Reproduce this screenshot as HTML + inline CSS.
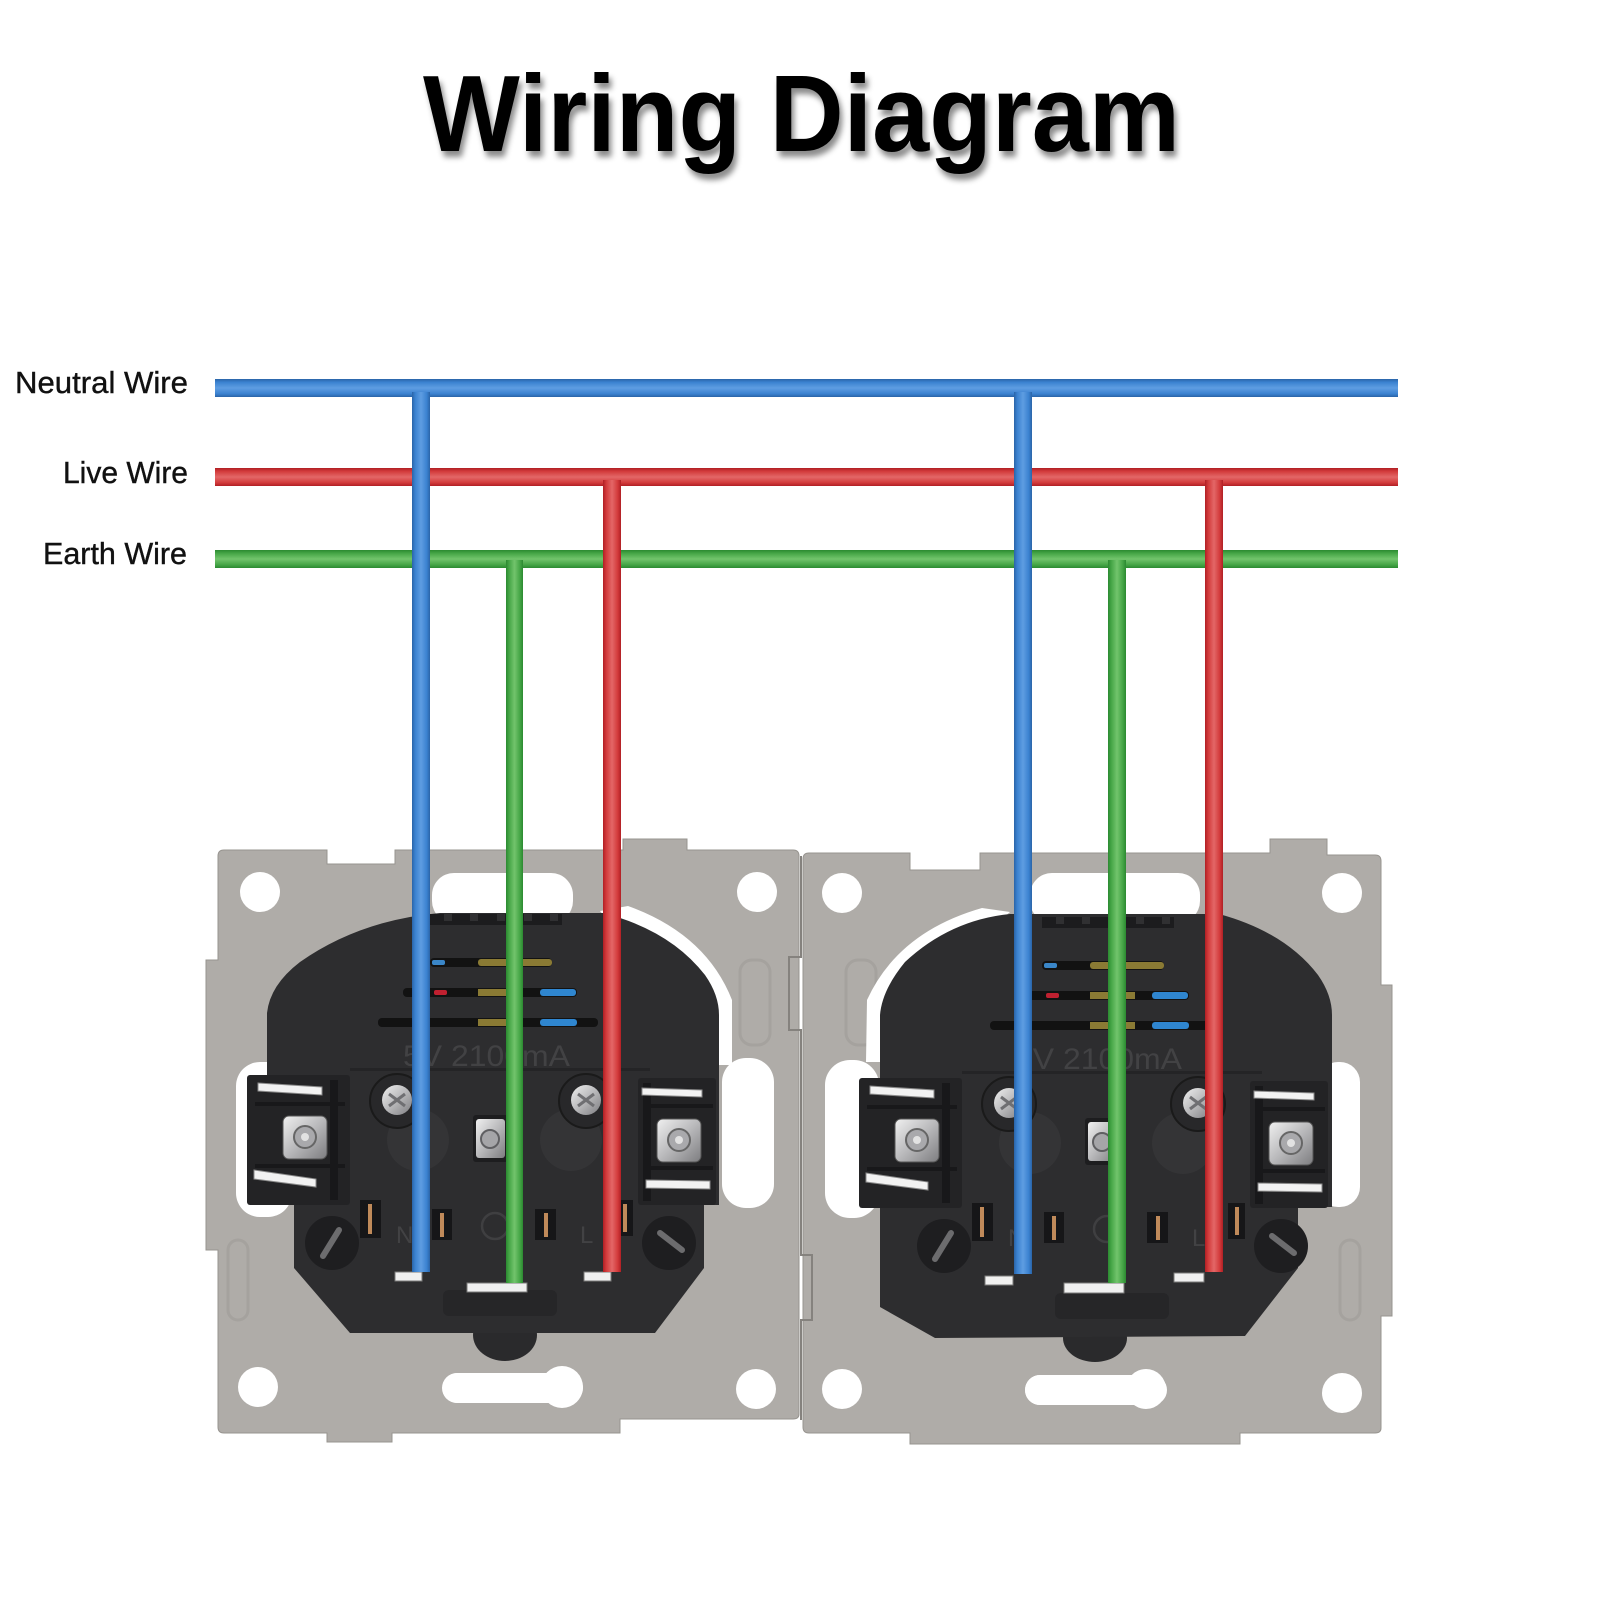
<!DOCTYPE html>
<html>
<head>
<meta charset="utf-8">
<style>
html,body{margin:0;padding:0;background:#ffffff;}
svg{display:block;}
</style>
</head>
<body>
<svg width="1600" height="1600" viewBox="0 0 1600 1600" xmlns="http://www.w3.org/2000/svg">
<defs>
  <linearGradient id="hb" x1="0" y1="0" x2="0" y2="1">
    <stop offset="0" stop-color="#2a64a8"/><stop offset="0.18" stop-color="#3b82d0"/>
    <stop offset="0.5" stop-color="#5e9de2"/><stop offset="0.82" stop-color="#3b82d0"/>
    <stop offset="1" stop-color="#2a64a8"/>
  </linearGradient>
  <linearGradient id="vb" x1="0" y1="0" x2="1" y2="0">
    <stop offset="0" stop-color="#2a64a8"/><stop offset="0.18" stop-color="#3b82d0"/>
    <stop offset="0.5" stop-color="#5e9de2"/><stop offset="0.82" stop-color="#3b82d0"/>
    <stop offset="1" stop-color="#2a64a8"/>
  </linearGradient>
  <linearGradient id="hr" x1="0" y1="0" x2="0" y2="1">
    <stop offset="0" stop-color="#b01f24"/><stop offset="0.18" stop-color="#d23a3b"/>
    <stop offset="0.5" stop-color="#e36767"/><stop offset="0.82" stop-color="#d23a3b"/>
    <stop offset="1" stop-color="#b01f24"/>
  </linearGradient>
  <linearGradient id="vr" x1="0" y1="0" x2="1" y2="0">
    <stop offset="0" stop-color="#b01f24"/><stop offset="0.18" stop-color="#d23a3b"/>
    <stop offset="0.5" stop-color="#e36767"/><stop offset="0.82" stop-color="#d23a3b"/>
    <stop offset="1" stop-color="#b01f24"/>
  </linearGradient>
  <linearGradient id="hg" x1="0" y1="0" x2="0" y2="1">
    <stop offset="0" stop-color="#2b8a31"/><stop offset="0.18" stop-color="#45a546"/>
    <stop offset="0.5" stop-color="#72c46c"/><stop offset="0.82" stop-color="#45a546"/>
    <stop offset="1" stop-color="#2b8a31"/>
  </linearGradient>
  <linearGradient id="vg" x1="0" y1="0" x2="1" y2="0">
    <stop offset="0" stop-color="#2b8a31"/><stop offset="0.18" stop-color="#45a546"/>
    <stop offset="0.5" stop-color="#72c46c"/><stop offset="0.82" stop-color="#45a546"/>
    <stop offset="1" stop-color="#2b8a31"/>
  </linearGradient>
  <linearGradient id="silver" x1="0" y1="0" x2="1" y2="1">
    <stop offset="0" stop-color="#f0f0f0"/><stop offset="0.5" stop-color="#b9b9bb"/>
    <stop offset="1" stop-color="#7d7d80"/>
  </linearGradient>
  <filter id="sh" x="-5%" y="-30%" width="112%" height="170%">
    <feDropShadow dx="3" dy="6" stdDeviation="3" flood-color="#000" flood-opacity="0.45"/>
  </filter>

  <g id="inner">
    <!-- top teeth strip -->
    <rect x="430" y="914" width="132" height="11" fill="#1c1c1e"/>
    <g fill="#303032">
      <rect x="444" y="914" width="8" height="7"/><rect x="470" y="914" width="8" height="7"/>
      <rect x="497" y="914" width="8" height="7"/><rect x="524" y="914" width="8" height="7"/>
      <rect x="550" y="914" width="8" height="7"/>
    </g>
    <!-- vents -->
    <rect x="430" y="958" width="122" height="9" rx="4" fill="#121212"/>
    <rect x="432" y="960" width="13" height="5" rx="2" fill="#3a86c8"/>
    <rect x="478" y="959" width="74" height="7" rx="3" fill="#8a7a34"/>
    <rect x="403" y="988" width="174" height="9" rx="4" fill="#121212"/>
    <rect x="434" y="990" width="13" height="5" rx="2" fill="#c02030"/>
    <rect x="478" y="989" width="45" height="7" fill="#8a7a34"/>
    <rect x="540" y="989" width="36" height="7" rx="3" fill="#2f86d0"/>
    <rect x="378" y="1018" width="220" height="9" rx="4" fill="#121212"/>
    <rect x="478" y="1019" width="45" height="7" fill="#8a7a34"/>
    <rect x="540" y="1019" width="37" height="7" rx="3" fill="#2f86d0"/>
    <!-- ledge -->
    <rect x="350" y="1068" width="300" height="3" fill="#242426"/>
    <!-- recesses -->
    <circle cx="418" cy="1140" r="31" fill="#343436"/>
    <circle cx="571" cy="1140" r="31" fill="#343436"/>
    <!-- upper screws -->
    <circle cx="397" cy="1101" r="27" fill="#28282a" stroke="#1a1a1a" stroke-width="2"/>
    <circle cx="397" cy="1100" r="15" fill="url(#silver)"/>
    <path d="M389,1094 L405,1106 M405,1094 L389,1106" stroke="#6f6f72" stroke-width="3"/>
    <circle cx="586" cy="1101" r="27" fill="#28282a" stroke="#1a1a1a" stroke-width="2"/>
    <circle cx="586" cy="1100" r="15" fill="url(#silver)"/>
    <path d="M578,1094 L594,1106 M594,1094 L578,1106" stroke="#6f6f72" stroke-width="3"/>
    <!-- center earth screw -->
    <rect x="473" y="1115" width="35" height="47" rx="3" fill="#1d1d1f"/>
    <rect x="476" y="1119" width="29" height="39" rx="3" fill="url(#silver)"/>
    <circle cx="490" cy="1139" r="9" fill="#a5a5a8" stroke="#5f5f62" stroke-width="2"/>
    <!-- left terminal block -->
    <rect x="247" y="1075" width="103" height="130" rx="3" fill="#232325"/>
    <rect x="330" y="1080" width="8" height="120" fill="#18181a"/>
    <rect x="255" y="1102" width="90" height="4" fill="#18181a"/>
    <rect x="255" y="1164" width="90" height="4" fill="#18181a"/>
    <rect x="283" y="1116" width="44" height="43" rx="6" fill="url(#silver)" stroke="#555" stroke-width="1"/>
    <circle cx="305" cy="1137" r="11" fill="#a9a9ac" stroke="#666" stroke-width="2"/>
    <circle cx="305" cy="1137" r="4" fill="#e2e2e2"/>
    <polygon points="258,1083 322,1087 322,1095 258,1091" fill="#f2f2f2" stroke="#8a8a8a"/>
    <polygon points="254,1170 316,1179 316,1187 254,1179" fill="#f2f2f2" stroke="#8a8a8a"/>
    <!-- right terminal block -->
    <rect x="638" y="1078" width="78" height="127" rx="3" fill="#232325"/>
    <rect x="643" y="1083" width="8" height="118" fill="#18181a"/>
    <rect x="645" y="1104" width="68" height="4" fill="#18181a"/>
    <rect x="645" y="1166" width="68" height="4" fill="#18181a"/>
    <rect x="657" y="1119" width="44" height="43" rx="6" fill="url(#silver)" stroke="#555" stroke-width="1"/>
    <circle cx="679" cy="1140" r="11" fill="#a9a9ac" stroke="#666" stroke-width="2"/>
    <circle cx="679" cy="1140" r="4" fill="#e2e2e2"/>
    <polygon points="642,1088 702,1090 702,1097 642,1095" fill="#f2f2f2" stroke="#8a8a8a"/>
    <polygon points="646,1180 710,1181 710,1189 646,1188" fill="#f2f2f2" stroke="#8a8a8a"/>
    <!-- lower corner recesses -->
    <circle cx="332" cy="1243" r="27" fill="#1e1e20"/>
    <path d="M323,1256 L339,1230" stroke="#6c6c6e" stroke-width="6" stroke-linecap="round"/>
    <circle cx="669" cy="1243" r="27" fill="#1e1e20"/>
    <path d="M660,1233 L682,1250" stroke="#6c6c6e" stroke-width="6" stroke-linecap="round"/>
    <!-- pins -->
    <rect x="360" y="1200" width="21" height="38" fill="#161618"/>
    <rect x="368" y="1204" width="4" height="30" fill="#c08a5a"/>
    <rect x="432" y="1209" width="20" height="31" fill="#161618"/>
    <rect x="440" y="1213" width="4" height="24" fill="#c08a5a"/>
    <rect x="535" y="1209" width="21" height="31" fill="#161618"/>
    <rect x="544" y="1213" width="4" height="24" fill="#c08a5a"/>
    <rect x="616" y="1200" width="17" height="36" fill="#161618"/>
    <rect x="623" y="1204" width="4" height="28" fill="#c08a5a"/>
    <!-- earth symbol -->
    <circle cx="495" cy="1226" r="13" fill="none" stroke="#3f3f41" stroke-width="2.5"/>
    <!-- lower protrusion -->
    <rect x="443" y="1290" width="114" height="26" rx="6" fill="#262628"/>
  </g>
</defs>

<rect x="0" y="0" width="1600" height="1600" fill="#ffffff"/>

<!-- Plates -->
<path d="M224,850 L327,850 L327,864 L395,864 L395,850 L623,850 L623,839 L687,839 L687,850 L793,850 Q799,850 799,856 L799,1414 Q799,1419 793,1419 L620,1419 L620,1433 L392,1433 L392,1442 L327,1442 L327,1433 L224,1433 Q218,1433 218,1427 L218,1250 L206,1250 L206,960 L218,960 L218,856 Q218,850 224,850 Z" fill="#afaca8" stroke="#97948f" stroke-width="1"/>
<path d="M809,853 L910,853 L910,870 L980,870 L980,853 L1270,853 L1270,839 L1327,839 L1327,855 L1375,855 Q1381,855 1381,861 L1381,985 L1392,985 L1392,1316 L1381,1316 L1381,1428 Q1381,1433 1375,1433 L1240,1433 L1240,1444 L910,1444 L910,1433 L809,1433 Q803,1433 803,1427 L803,859 Q803,853 809,853 Z" fill="#afaca8" stroke="#97948f" stroke-width="1"/>
<path d="M801,856 L801,957 L789,957 L789,1030 L801,1030 L801,1255 L812,1255 L812,1320 L801,1320 L801,1420" fill="none" stroke="#85827e" stroke-width="2"/>
<!-- subtle embossing -->
<g fill="none" stroke="#a19e9a" stroke-width="3" opacity="0.7">
  <rect x="740" y="960" width="30" height="85" rx="12"/>
  <rect x="846" y="960" width="30" height="85" rx="12"/>
  <rect x="1340" y="1240" width="20" height="80" rx="10"/>
  <rect x="228" y="1240" width="20" height="80" rx="10"/>
</g>

<!-- holes, slots, openings -->
<g fill="#ffffff">
  <circle cx="260" cy="892" r="20"/><circle cx="757" cy="892" r="20"/>
  <circle cx="258" cy="1387" r="20"/><circle cx="756" cy="1389" r="20"/>
  <circle cx="842" cy="893" r="20"/><circle cx="1342" cy="893" r="20"/>
  <circle cx="842" cy="1389" r="20"/><circle cx="1342" cy="1393" r="20"/>
  <rect x="432" y="873" width="141" height="50" rx="22"/>
  <rect x="1030" y="873" width="170" height="50" rx="22"/>
  <rect x="442" y="1373" width="141" height="30" rx="15"/>
  <circle cx="562" cy="1387" r="21"/><circle cx="458" cy="1388" r="15"/>
  <rect x="1025" y="1375" width="142" height="30" rx="15"/>
  <circle cx="1146" cy="1389" r="20"/><circle cx="1040" cy="1390" r="15"/>
  <rect x="236" y="1062" width="56" height="155" rx="24"/>
  <rect x="722" y="1058" width="52" height="150" rx="24"/>
  <rect x="825" y="1060" width="54" height="158" rx="25"/>
  <rect x="1318" y="1062" width="42" height="145" rx="20"/>
  <path d="M600,911 L628,906 Q706,934 732,1000 L732,1065 L680,1065 L640,960 Z"/>
  <path d="M1010,912 L982,908 Q898,932 867,1000 L866,1062 L905,1062 L955,960 Z"/>
</g>

<!-- Socket bodies -->
<ellipse cx="505" cy="1335" rx="32" ry="26" fill="#2a2a2c"/>
<path d="M440,913 L603,913 Q670,930 705,975 Q719,995 719,1015 L719,1205 L704,1205 L704,1268 L655,1333 L350,1333 L294,1268 L294,1205 L267,1205 L267,1013 Q270,985 300,962 Q360,920 440,913 Z" fill="#2d2d2f"/>
<ellipse cx="1095" cy="1338" rx="32" ry="24" fill="#2a2a2c"/>
<path d="M1010,914 L1219,914 Q1285,932 1318,975 Q1332,995 1332,1015 L1332,1207 L1298,1207 L1298,1268 L1245,1336 L935,1338 L880,1307 L880,1015 Q882,990 905,962 Q950,920 1010,914 Z" fill="#2d2d2f"/>

<use href="#inner"/>
<use href="#inner" transform="translate(612,3)"/>

<!-- embossed text -->
<g font-family="Liberation Sans, sans-serif" fill="#424244">
  <text x="403" y="1066" font-size="30" textLength="167" lengthAdjust="spacingAndGlyphs">5V 2100mA</text>
  <text x="1015" y="1069" font-size="30" textLength="167" lengthAdjust="spacingAndGlyphs">5V 2100mA</text>
  <text x="396" y="1243" font-size="24">N</text>
  <text x="580" y="1243" font-size="24">L</text>
  <text x="1008" y="1246" font-size="24">N</text>
  <text x="1192" y="1246" font-size="24">L</text>
</g>

<!-- wire end clips -->
<g fill="#f0f0f0" stroke="#7a7a7a" stroke-width="1">
  <rect x="395" y="1272" width="27" height="9"/>
  <rect x="467" y="1283" width="60" height="9"/>
  <rect x="584" y="1272" width="27" height="9"/>
  <rect x="985" y="1276" width="28" height="9"/>
  <rect x="1064" y="1283" width="60" height="10"/>
  <rect x="1174" y="1273" width="30" height="9"/>
</g>

<!-- bus bars -->
<rect x="215" y="379" width="1183" height="18" fill="url(#hb)"/>
<rect x="215" y="468" width="1183" height="18" fill="url(#hr)"/>
<rect x="215" y="550" width="1183" height="18" fill="url(#hg)"/>

<!-- vertical wires -->
<rect x="506" y="560" width="17" height="723" fill="url(#vg)"/>
<rect x="1108" y="560" width="18" height="723" fill="url(#vg)"/>
<rect x="603" y="480" width="18" height="792" fill="url(#vr)"/>
<rect x="1205" y="480" width="18" height="792" fill="url(#vr)"/>
<rect x="412" y="392" width="18" height="880" fill="url(#vb)"/>
<rect x="1014" y="392" width="18" height="882" fill="url(#vb)"/>

<!-- title -->
<text x="423" y="151" font-family="Liberation Sans, sans-serif" font-weight="700" font-size="109" fill="#000" textLength="757" lengthAdjust="spacingAndGlyphs" filter="url(#sh)">Wiring Diagram</text>

<!-- labels -->
<g font-family="Liberation Sans, sans-serif" font-size="31" fill="#111" stroke="#111" stroke-width="0.4">
  <text x="15" y="393" textLength="173" lengthAdjust="spacingAndGlyphs">Neutral Wire</text>
  <text x="63" y="483" textLength="125" lengthAdjust="spacingAndGlyphs">Live Wire</text>
  <text x="43" y="564" textLength="144" lengthAdjust="spacingAndGlyphs">Earth Wire</text>
</g>
</svg>
</body>
</html>
